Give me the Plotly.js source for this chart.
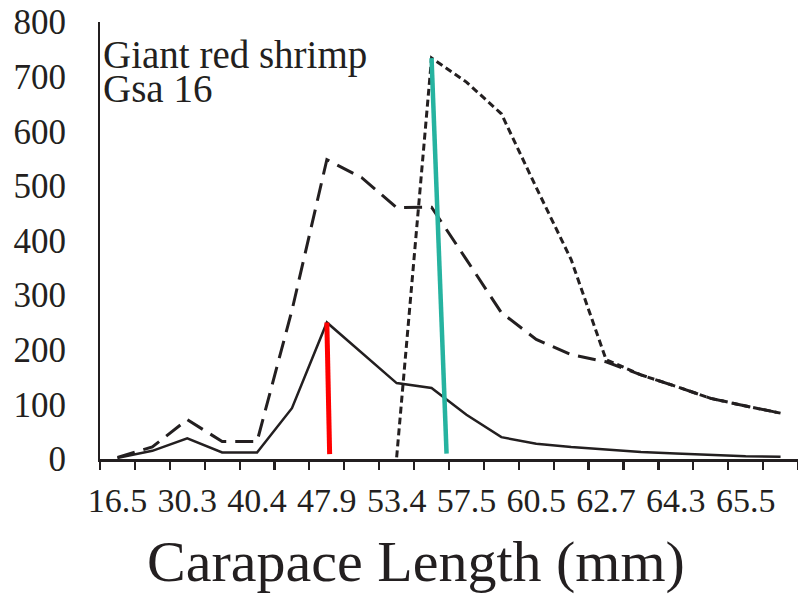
<!DOCTYPE html>
<html>
<head>
<meta charset="utf-8">
<script src="https://cdn.plot.ly/plotly-3.0.1.min.js"></script>
<style>
  html, body { margin: 0; padding: 0; background: #ffffff; }
  #chart { width: 798px; height: 601px; }
</style>
</head>
<body>
<div id="chart"></div>
<script>
// Category index along the length-class axis (20 classes)
const classIndex = [0,1,2,3,4,5,6,7,8,9,10,11,12,13,14,15,16,17,18,19];
// Tick labels shown on every second class
const tickIndex  = [0, 2, 4, 6, 8, 10, 12, 14, 16, 18];
const tickLabels = ["16.5","30.3","40.4","47.9","53.4","57.5","60.5","62.7","64.3","65.5"];

// Series values
const solidSeries  = [2, 15, 38, 12, 12, 93, 250, 195, 139, 130, 81, 40, 28, 22, 17, 13, 10, 7, 5, 4];
const dashedSeries = [3, 22, 72, 32, 32, 272, 548, 515, 460, 461, 365, 268, 219, 191, 178, 154, 133, 111, 97, 84];
const dottedSeries = [null, null, null, null, null, null, null, null, 3, 734, 690, 632, 497, 365, 182, 154, 133, 111, 97, 84];

const yTicks = [0, 100, 200, 300, 400, 500, 600, 700, 800];

const ink = "#231f20";
const serif = "Liberation Serif, Times New Roman, serif";

function argmax(arr) {
  let best = -1, bi = 0;
  arr.forEach((v, i) => { if (v !== null && v > best) { best = v; bi = i; } });
  return bi;
}

const solidPeak = argmax(solidSeries);
const dottedPeak = argmax(dottedSeries);

const boundaries = [];
for (let k = 0; k <= classIndex.length; k++) boundaries.push(k - 0.5);

const traces = [
  { x: classIndex, y: solidSeries, mode: "lines", line: { color: ink, width: 2.5 } },
  { x: classIndex, y: dashedSeries, mode: "lines", line: { color: ink, width: 3, dash: "18px,9px" } },
  { x: classIndex, y: dottedSeries, mode: "lines", line: { color: ink, width: 3, dash: "7px,4px" }, connectgaps: false },
  // modal markers (red for solid peak, teal for dotted peak)
  { x: [solidPeak, solidPeak + 0.08], y: [solidSeries[solidPeak], 9], mode: "lines",
    line: { color: "#ff0000", width: 5 } },
  { x: [dottedPeak, dottedPeak + 0.43], y: [dottedSeries[dottedPeak], 10], mode: "lines",
    line: { color: "#26b3a0", width: 4.5 } },
  // carrier for the class-boundary tick axis
  { x: [], y: [], xaxis: "x2", yaxis: "y", mode: "lines" }
];

const layout = {
  width: 798, height: 601,
  margin: { l: 100, r: 0, t: 22, b: 142 },
  paper_bgcolor: "#ffffff", plot_bgcolor: "#ffffff",
  showlegend: false,
  hovermode: false,
  xaxis: {
    range: [-0.5, 19.5],
    tickmode: "array", tickvals: tickIndex, ticktext: tickLabels,
    ticks: "", tickangle: 0,
    ticklabelstandoff: 10,
    tickfont: { family: serif, size: 34, color: ink },
    showline: true, linecolor: ink, linewidth: 2.5,
    showgrid: false, zeroline: false
  },
  xaxis2: {
    overlaying: "x", anchor: "y", side: "bottom",
    range: [-0.5, 19.5],
    tickmode: "array", tickvals: boundaries,
    ticks: "outside", ticklen: 10, tickwidth: 2.2, tickcolor: ink,
    showticklabels: false, showline: false, showgrid: false, zeroline: false
  },
  yaxis: {
    range: [0, 800],
    tickmode: "array", tickvals: yTicks,
    ticks: "",
    ticklabelstandoff: 25,
    tickfont: { family: serif, size: 35, color: ink },
    showline: true, linecolor: ink, linewidth: 2,
    showgrid: false, zeroline: false
  },
  annotations: [
    { text: "Giant red shrimp", xref: "paper", yref: "paper", x: 0.002, y: 0.980,
      xanchor: "left", yanchor: "top", showarrow: false,
      font: { family: serif, size: 39, color: ink } },
    { text: "Gsa 16", xref: "paper", yref: "paper", x: 0.002, y: 0.902,
      xanchor: "left", yanchor: "top", showarrow: false,
      font: { family: serif, size: 39, color: ink } },
    { text: "Carapace Length (mm)", xref: "paper", yref: "paper", x: 0.4527, y: -0.155,
      xanchor: "center", yanchor: "top", showarrow: false,
      font: { family: serif, size: 58, color: ink } }
  ]
};

Plotly.newPlot("chart", traces, layout, { displayModeBar: false, staticPlot: true });
</script>
</body>
</html>
